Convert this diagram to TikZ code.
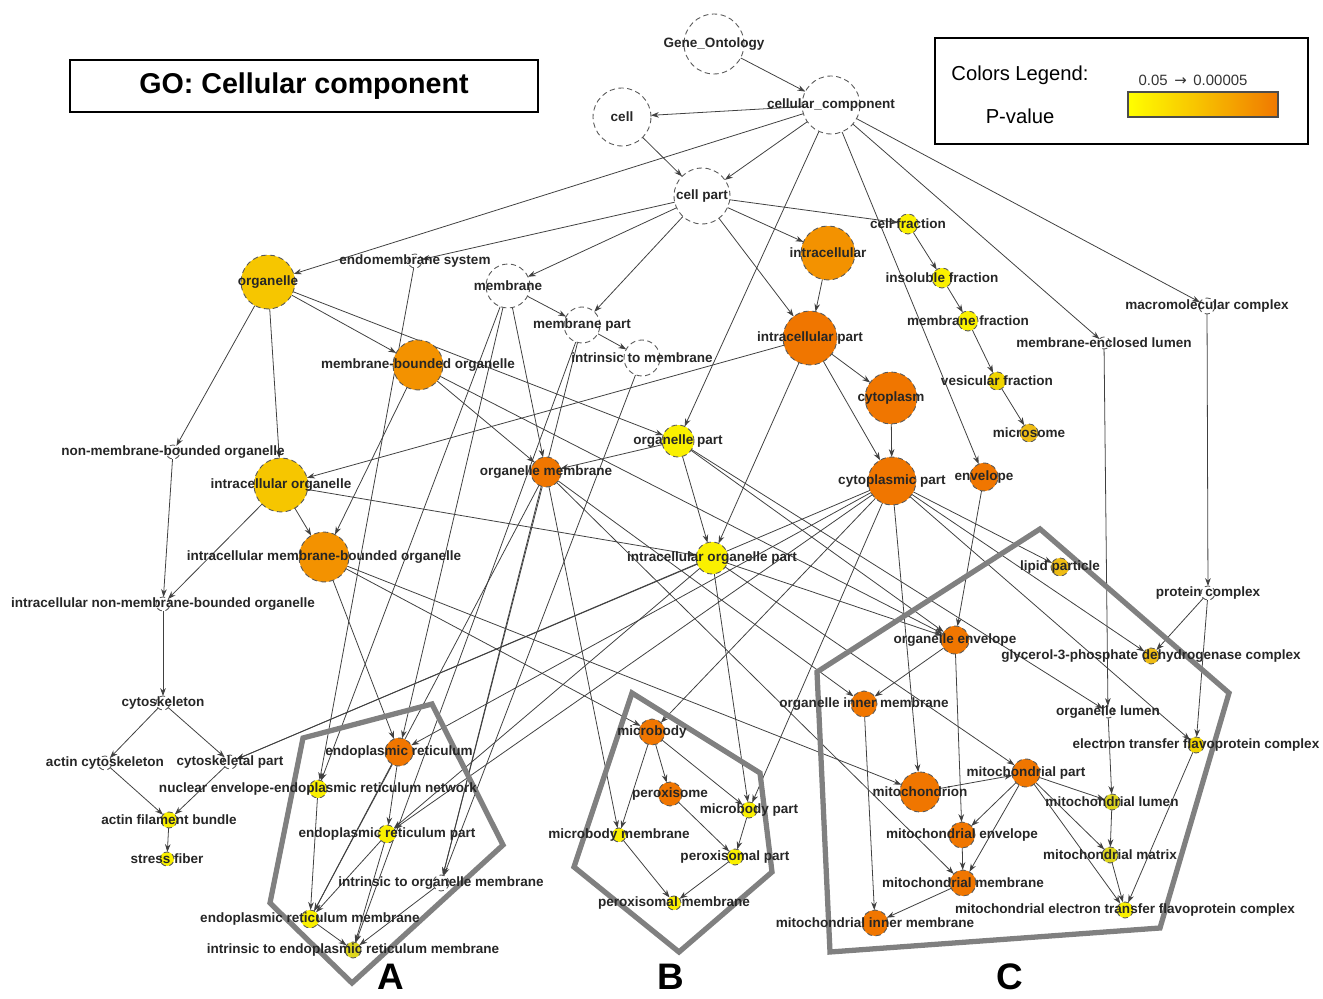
\documentclass[tikz,border=0pt]{standalone}
\usepackage{fontspec}
\setmainfont{Liberation Sans}
\newfontfamily\dejavu{DejaVu Sans}
\usetikzlibrary{arrows.meta}
\pgfdeclarelayer{background}
\pgfdeclarelayer{foreground}
\pgfsetlayers{background,main,foreground}
\definecolor{cO}{RGB}{240,118,0}
\definecolor{cOB}{RGB}{243,146,0}
\definecolor{cG}{RGB}{246,198,0}
\definecolor{cY}{RGB}{250,240,0}
\definecolor{cYB}{RGB}{240,212,0}
\definecolor{cYC}{RGB}{238,188,20}
\definecolor{cYD}{RGB}{222,214,30}
\definecolor{barY}{RGB}{255,255,0}
\definecolor{barM}{RGB}{247,190,0}
\definecolor{barO}{RGB}{240,120,0}
\tikzset{
 gn/.style={circle, draw=black!65, densely dashed, line width=0.5pt, inner sep=0pt, outer sep=0pt},
 lbl/.style={font=\bfseries\fontsize{7.7}{8}\selectfont, text=black!85, inner sep=0pt},
 conn/.style={-{Stealth[length=4.5pt,width=3.2pt]}, draw=black!75, line width=0.45pt},
 grp/.style={draw=gray, line width=3pt, line join=miter},
 boxst/.style={draw=black, line width=1.2pt},
 letter/.style={font=\bfseries\fontsize{21}{22}\selectfont, inner sep=0pt, anchor=base},
}
\newcommand{\gonode}[6]{%
  \node[gn, fill=#5, minimum size=#4*0.04cm] (#1) at (#2,#3) {};
  \begin{pgfonlayer}{foreground}\node[lbl] at (#2,#3) {#6};\end{pgfonlayer}}
\begin{document}
\begin{tikzpicture}[x=0.02cm,y=-0.02cm]
\useasboundingbox (0,0) rectangle (1323,999);
% title and legend
\node[boxst, minimum width=468*0.02cm, minimum height=52*0.02cm, inner sep=0pt,
      font=\bfseries\fontsize{16.3}{18}\selectfont] (title) at (304,86) {GO: Cellular component};
\node[boxst, minimum width=373*0.02cm, minimum height=106*0.02cm, inner sep=0pt] (legend) at (1121.5,91) {};
\node[font=\fontsize{11.5}{13}\selectfont] (legt) at (1020,75) {Colors Legend:};
\node[font=\fontsize{11.5}{13}\selectfont] (legp) at (1020,116) {P-value};
\node[font=\fontsize{8.5}{10}\selectfont, text=black!80] (legr) at (1193,80) {0.05 \,{\dejavu →}\, 0.00005};
\shade[left color=barY, right color=barO, middle color=barM] (1128,92) rectangle (1278,117);
\draw[black!70, line width=0.6pt] (1128,92) rectangle (1278,117);
% nodes
\gonode{GO}{714}{44}{30}{white}{Gene\_Ontology}
\gonode{CC}{831}{105}{29}{white}{cellular\_component}
\gonode{cell}{622}{117}{29}{white}{cell}
\gonode{cpart}{702}{196}{28}{white}{cell part}
\gonode{org}{268}{282}{27}{cG}{organelle}
\gonode{endo}{415}{261}{7}{white}{endomembrane system}
\gonode{mem}{508}{286}{22}{white}{membrane}
\gonode{mpart}{582}{325}{18}{white}{membrane part}
\gonode{itm}{642}{358}{18}{white}{intrinsic to membrane}
\gonode{ic}{828}{253}{27}{cOB}{intracellular}
\gonode{icp}{810}{338}{27}{cO}{intracellular part}
\gonode{cf}{908}{224}{10}{cY}{cell fraction}
\gonode{insol}{942}{278}{10}{cY}{insoluble fraction}
\gonode{mf}{968}{321}{10}{cY}{membrane fraction}
\gonode{vf}{997}{381}{9}{cYB}{vesicular fraction}
\gonode{micros}{1029}{433}{9}{cYC}{microsome}
\gonode{macro}{1207}{306}{8}{white}{macromolecular complex}
\gonode{mel}{1104}{343}{6}{white}{membrane-enclosed lumen}
\gonode{cyto}{891}{398}{26}{cO}{cytoplasm}
\gonode{op}{678}{441}{16}{cY}{organelle part}
\gonode{mbo}{418}{365}{25}{cOB}{membrane-bounded organelle}
\gonode{nmbo}{173}{452}{7}{white}{non-membrane-bounded organelle}
\gonode{ico}{281}{485}{27}{cG}{intracellular organelle}
\gonode{om}{546}{472}{15}{cO}{organelle membrane}
\gonode{cp}{892}{481}{24}{cO}{cytoplasmic part}
\gonode{env}{984}{477}{14}{cO}{envelope}
\gonode{imbo}{324}{557}{25}{cOB}{intracellular membrane-bounded organelle}
\gonode{iop}{712}{558}{16}{cY}{intracellular organelle part}
\gonode{lipid}{1060}{567}{9}{cYC}{lipid particle}
\gonode{pc}{1208}{593}{7}{white}{protein complex}
\gonode{inmbo}{163}{604}{7}{white}{intracellular non-membrane-bounded organelle}
\gonode{oenv}{955}{640}{14}{cO}{organelle envelope}
\gonode{g3p}{1151}{656}{8}{cYC}{glycerol-3-phosphate dehydrogenase complex}
\gonode{csk}{163}{703}{7}{white}{cytoskeleton}
\gonode{oim}{864}{704}{13}{cO}{organelle inner membrane}
\gonode{olum}{1108}{712}{6}{white}{organelle lumen}
\gonode{etf}{1196}{745}{8}{cYB}{electron transfer flavoprotein complex}
\gonode{acsk}{105}{763}{7}{white}{actin cytoskeleton}
\gonode{cskp}{230}{762}{7}{white}{cytoskeletal part}
\gonode{er}{399}{752}{14}{cO}{endoplasmic reticulum}
\gonode{neer}{318}{789}{9}{cY}{nuclear envelope-endoplasmic reticulum network}
\gonode{afb}{169}{820}{8}{cY}{actin filament bundle}
\gonode{sf}{167}{859}{7}{cY}{stress fiber}
\gonode{erp}{387}{834}{9}{cY}{endoplasmic reticulum part}
\gonode{itom}{441}{883}{8}{white}{intrinsic to organelle membrane}
\gonode{erm}{310}{919}{9}{cY}{endoplasmic reticulum membrane}
\gonode{iterm}{353}{950}{8}{cYD}{intrinsic to endoplasmic reticulum membrane}
\gonode{mb}{652}{732}{13}{cO}{microbody}
\gonode{perox}{670}{794}{12}{cO}{peroxisome}
\gonode{mbp}{749}{810}{8}{cY}{microbody part}
\gonode{mbm}{619}{835}{7}{cY}{microbody membrane}
\gonode{pp}{735}{857}{8}{cY}{peroxisomal part}
\gonode{pm}{674}{903}{7}{cY}{peroxisomal membrane}
\gonode{mito}{920}{792}{20}{cO}{mitochondrion}
\gonode{mp}{1026}{773}{14}{cO}{mitochondrial part}
\gonode{ml}{1112}{802}{8}{cYD}{mitochondrial lumen}
\gonode{me}{962}{835}{13}{cO}{mitochondrial envelope}
\gonode{mm}{1110}{855}{8}{cYD}{mitochondrial matrix}
\gonode{mmem}{963}{883}{13}{cO}{mitochondrial membrane}
\gonode{metf}{1125}{910}{8}{cY}{mitochondrial electron transfer flavoprotein complex}
\gonode{mim}{875}{923}{13}{cO}{mitochondrial inner membrane}
% connectors
\begin{pgfonlayer}{background}
\foreach \a/\b in {GO/CC, CC/cell, CC/cpart, cell/cpart, CC/org, CC/op, CC/env, CC/mel, CC/macro,
  cpart/endo, cpart/mem, cpart/mpart, cpart/ic, cpart/icp, cpart/cf,
  cf/insol, insol/mf, mf/vf, vf/micros,
  ic/icp, icp/cyto, icp/cp, icp/ico, icp/iop, cyto/cp,
  org/nmbo, org/ico, org/mbo, org/op,
  mem/mpart, mem/om, mem/neer, mem/er, mpart/itm, mpart/itom, mpart/iterm, itm/itom, endo/neer,
  mbo/imbo, mbo/om, mbo/oenv, op/iop, op/om, op/olum, op/oenv,
  nmbo/inmbo, ico/inmbo, ico/imbo, ico/iop,
  inmbo/csk, csk/acsk, csk/cskp, acsk/afb, cskp/afb, afb/sf, cp/cskp, iop/cskp,
  imbo/er, imbo/mb, imbo/mito, cp/er, er/erp, er/erm, neer/erm, erp/erm, erp/iterm, erm/iterm, itom/iterm,
  iop/erp, cp/erp, om/erm, om/itom,
  cp/mb, mb/perox, mb/mbp, mb/mbm, perox/pp, mbp/pp, mbm/pm, pp/pm, iop/mbp, cp/mbp, om/mbm,
  env/oenv, iop/oenv, cp/lipid, cp/g3p, pc/g3p, macro/pc, pc/etf, cp/etf,
  oenv/oim, oenv/me, om/oim, oim/mim,
  cp/mito, mito/mp, mp/me, mp/mmem, mp/ml, mp/mm, mp/metf, me/mmem, mmem/mim,
  mel/olum, olum/ml, ml/mm, mm/metf, etf/metf, iop/mp, om/mmem}
  \draw[conn] (\a) -- (\b);
\end{pgfonlayer}
% groups
\draw[grp] (303,738) -- (432,704) -- (503,845) -- (352,983) -- (270,903) -- cycle;
\draw[grp] (632,693) -- (760,773) -- (772,872) -- (679,952) -- (574,867) -- cycle;
\draw[grp] (1040,529) -- (1229,693) -- (1160,928) -- (830,952) -- (817,672) -- cycle;
\node[letter] (lA) at (391,990) {A};
\node[letter] (lB) at (671,990) {B};
\node[letter] (lC) at (1010,990) {C};
\end{tikzpicture}
\end{document}
